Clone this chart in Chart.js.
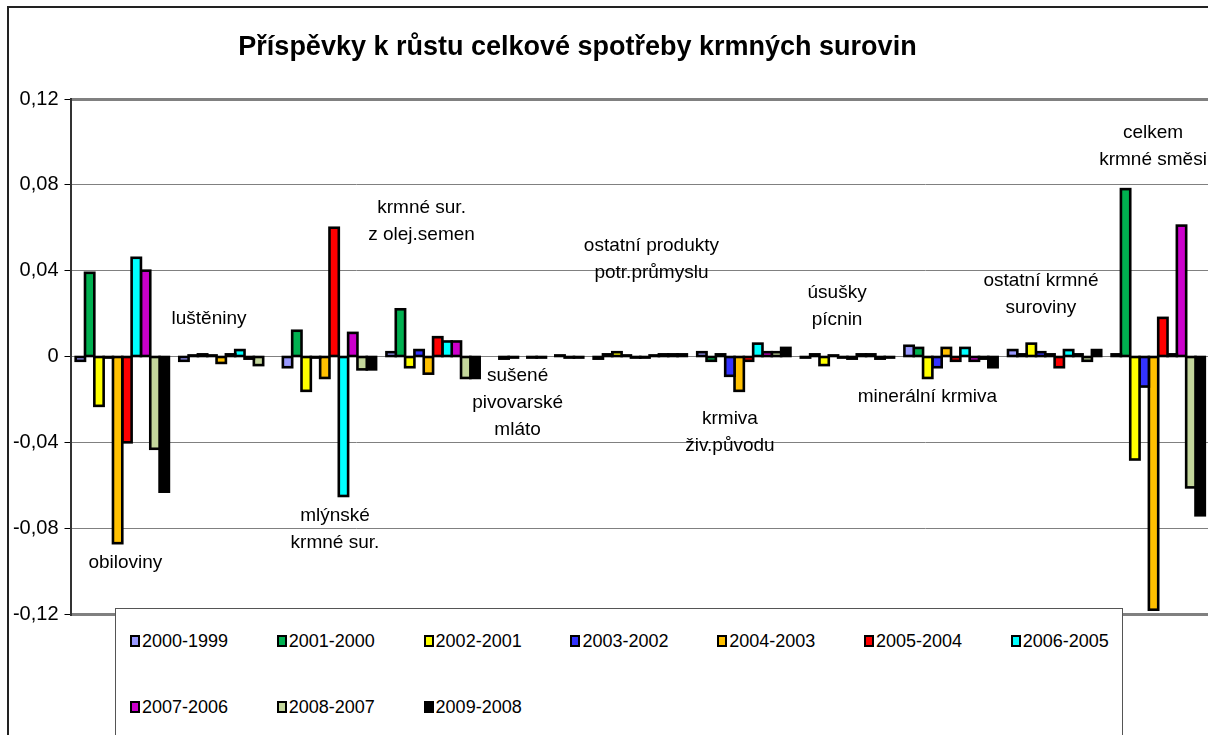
<!DOCTYPE html>
<html><head><meta charset="utf-8">
<script src="https://cdn.jsdelivr.net/npm/chart.js@4.4.1/dist/chart.umd.min.js"></script>
<style>
html,body{margin:0;padding:0;background:#fff;overflow:hidden;width:1208px;height:735px;}
#wrap{position:relative;width:1208px;height:735px;overflow:hidden;}
#frame{position:absolute;left:7px;top:6px;width:1400px;height:900px;border-left:2px solid #222;border-top:2px solid #222;}
#cv{position:absolute;left:0;top:0;}
#title{position:absolute;left:0;width:1155px;top:31px;height:32px;line-height:32px;text-align:center;font:bold 27px "Liberation Sans",Arial,sans-serif;color:#000;white-space:nowrap;}
#legend{position:absolute;left:115px;top:608px;width:1006px;height:160px;border:1px solid #555;background:#fff;}
.item{position:absolute;height:20px;line-height:20px;font:18px "Liberation Sans",Arial,sans-serif;color:#000;white-space:nowrap;display:flex;align-items:center;}
.sw{display:inline-block;width:6px;height:8px;border:2px solid #000;margin-right:2px;}
</style>
</head><body>
<div id="wrap">
<div id="frame"></div>
<canvas id="cv" width="1214" height="735"></canvas>
<div id="title">Příspěvky k růstu celkové spotřeby krmných surovin</div>
<div id="legend"></div>
</div>
<script>
// ---- data ----
const categoryLines = [
  ['obiloviny'],
  ['luštěniny'],
  ['mlýnské','krmné sur.'],
  ['krmné sur.','z olej.semen'],
  ['sušené','pivovarské','mláto'],
  ['ostatní produkty','potr.průmyslu'],
  ['krmiva','živ.původu'],
  ['úsušky','pícnin'],
  ['minerální krmiva'],
  ['ostatní krmné','suroviny'],
  ['celkem','krmné směsi']
];
const categories = categoryLines.map(l => l.join(' '));

const seriesNames = ['2000-1999','2001-2000','2002-2001','2003-2002','2004-2003','2005-2004','2006-2005','2007-2006','2008-2007','2009-2008'];

const s2000_1999 = [-0.002, -0.002, -0.005,  0.002,  null,   -0.001,  0.002, -0.0005,  0.005,  0.003,  0.001];
const s2001_2000 = [ 0.039,  0.0005, 0.012,  0.022, -0.001,   0.001, -0.002,  0.001,   0.004,  0.001,  0.078];
const s2002_2001 = [-0.023,  0.001, -0.016, -0.005, -0.0005,  0.002,  0.001, -0.004,  -0.010,  0.006, -0.048];
const s2003_2002 = [-0.0005, 0.0005,-0.0005, 0.003,  null,    0.0005,-0.009,  0.0005, -0.005,  0.002, -0.014];
const s2004_2003 = [-0.087, -0.003, -0.010, -0.008, -0.0005, -0.0005,-0.016, -0.0005,  0.004,  0.001, -0.118];
const s2005_2004 = [-0.040,  0.001,  0.060,  0.009, -0.0005, -0.0005,-0.002, -0.001,  -0.002, -0.005,  0.018];
const s2006_2005 = [ 0.046,  0.003, -0.065,  0.007,  null,    0.0005, 0.006,  0.001,   0.004,  0.003,  0.001];
const s2007_2006 = [ 0.040, -0.001,  0.011,  0.007,  0.0005,  0.001,  0.002,  0.001,  -0.002,  0.001,  0.061];
const s2008_2007 = [-0.043, -0.004, -0.006, -0.010, -0.0005,  0.001,  0.002, -0.001,  -0.001, -0.002, -0.061];
const s2009_2008 = [-0.063,  null,  -0.006, -0.010, -0.0005,  0.001,  0.004, -0.0005, -0.005,  0.003, -0.074];

const seriesValues = [s2000_1999,s2001_2000,s2002_2001,s2003_2002,s2004_2003,s2005_2004,s2006_2005,s2007_2006,s2008_2007,s2009_2008];

const yTicks = [-0.12,-0.08,-0.04,0,0.04,0.08,0.12];

// ---- styling / placement (not data) ----
const seriesColors = ['#9999FF','#00B050','#FFFF00','#3333FF','#FFC000','#FF0000','#00FFFF','#CC00CC','#C3D69B','#000000'];
const labelDx = [0.03,-0.163,0.053,-0.111,-0.184,0.108,-0.134,-0.1,-0.228,-0.132,-0.05];   // fraction of category width
const labelY  = [-0.0962,0.0175,-0.0743,0.0692,-0.0091,0.0515,-0.0291,0.0296,-0.0189,0.0352,0.1042]; // value of first line centre
const LINE_H = 27;
const FONT = '"Liberation Sans", Arial, sans-serif';

const outlinePlugin = {
  id: 'outline',
  afterDatasetDraw(chart, args) {
    const ctx = chart.ctx;
    const vals = chart.data.datasets[args.index].data;
    ctx.save();
    ctx.strokeStyle = '#000';
    ctx.lineWidth = 2.6;
    args.meta.data.forEach((el, i) => {
      if (vals[i] == null) return;
      const p = el.getProps(['x','y','base','width'], true);
      ctx.strokeRect(p.x - p.width/2, Math.min(p.y, p.base), p.width, Math.abs(p.base - p.y));
    });
    ctx.restore();
  }
};

const catLabelPlugin = {
  id: 'catLabels',
  afterDatasetsDraw(chart) {
    const ctx = chart.ctx, xs = chart.scales.x, ys = chart.scales.y;
    const cw = (xs.right - xs.left) / categories.length;
    ctx.save();
    ctx.fillStyle = '#000';
    ctx.font = '19px ' + FONT;
    ctx.textAlign = 'center';
    ctx.textBaseline = 'middle';
    categoryLines.forEach((lines, i) => {
      const cx = xs.getPixelForValue(i) + labelDx[i] * cw;
      const y0 = ys.getPixelForValue(labelY[i]);
      lines.forEach((t, k) => ctx.fillText(t, cx, y0 + k * LINE_H));
    });
    ctx.restore();
  }
};

const fmt = v => {
  const r = Math.round(v * 100) / 100;
  return r === 0 ? '0' : r.toFixed(2).replace('.', ',');
};

new Chart(document.getElementById('cv'), {
  type: 'bar',
  data: {
    labels: categories,
    datasets: seriesNames.map((n, i) => ({
      label: n,
      data: seriesValues[i],
      backgroundColor: seriesColors[i],
      borderWidth: 0
    }))
  },
  options: {
    responsive: false,
    animation: false,
    events: [],
    layout: { padding: { left: 8.5, right: 4, top: 99, bottom: 121 } },
    categoryPercentage: 0.9,
    barPercentage: 1.0,
    plugins: { legend: { display: false }, title: { display: false }, tooltip: { enabled: false } },
    scales: {
      x: { type: 'category', display: false, offset: true },
      y: {
        min: -0.12, max: 0.12,
        afterBuildTicks: s => { s.ticks = yTicks.map(v => ({ value: v })); },
        afterFit: s => { s.width = 62; },
        ticks: { color: '#000', font: { family: FONT, size: 20 }, padding: 6, callback: v => fmt(v) },
        grid: {
          color: '#808080',
          lineWidth: c => (c.tick && Math.abs(Math.abs(c.tick.value) - 0.12) < 1e-9) ? 3 : 1,
          tickLength: 6, tickColor: '#000', tickWidth: 1, drawTicks: true
        },
        border: { display: true, color: '#333', width: 2 }
      }
    }
  },
  plugins: [outlinePlugin, catLabelPlugin]
});

// legend (HTML, built from series arrays)
const lg = document.getElementById('legend');
seriesNames.forEach((n, i) => {
  const row = Math.floor(i / 7), col = i % 7;
  const d = document.createElement('div');
  d.className = 'item';
  d.style.left = (14 + col * 146.8) + 'px';
  d.style.top = (22 + row * 66) + 'px';
  const sw = document.createElement('span');
  sw.className = 'sw';
  sw.style.background = seriesColors[i];
  d.appendChild(sw);
  d.appendChild(document.createTextNode(n));
  lg.appendChild(d);
});
</script>
</body></html>
